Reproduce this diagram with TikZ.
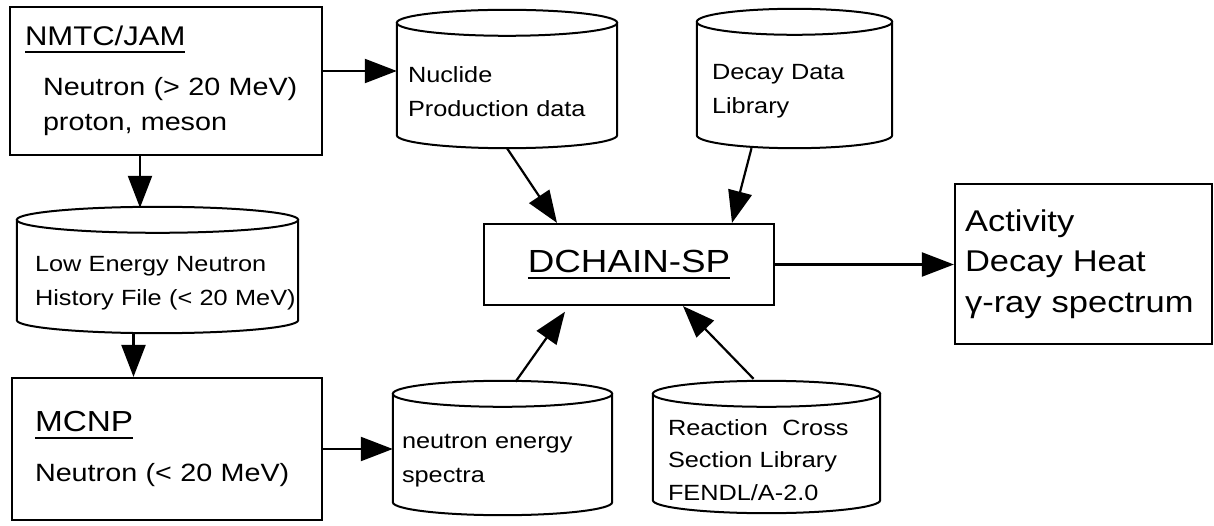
\documentclass[tikz,border=0pt]{standalone}
\usepackage{fontspec}
\setmainfont{Liberation Sans}[FakeStretch=1.15]
\usetikzlibrary{arrows.meta,calc}

\newcommand{\undertitle}[1]{\setbox0=\hbox{#1}\rlap{\rule[-7pt]{\wd0}{1.8pt}}\box0}

\tikzset{
  procbox/.style={draw, line width=2.2pt, rectangle, inner sep=0pt, align=left,
    font=\fontsize{25}{35}\selectfont},
  dbase/.style={rectangle, inner sep=0pt, align=left, font=\fontsize{22}{34}\selectfont,
    append after command={\pgfextra{
      \draw[line width=2pt] let \p1=(\tikzlastnode.west), \p2=(\tikzlastnode.east),
          \n1={(\x2-\x1)/2} in
        ([yshift=13pt]\tikzlastnode.north) ellipse [x radius={\n1*1pt}, y radius=13pt]
        ([yshift=13pt]\tikzlastnode.north west) -- ([yshift=13pt]\tikzlastnode.south west)
        arc [start angle=180, end angle=360, x radius={\n1*1pt}, y radius=13pt]
        -- ([yshift=13pt]\tikzlastnode.north east);
    }}},
  flow/.style={line width=2.2pt, -{Triangle[length=32pt,width=24pt]}}
}

\begin{document}
\begin{tikzpicture}[x=1pt, y=-1pt]
	\useasboundingbox (0,0) rectangle (1214,526);

	% programs
	\node[procbox, minimum width=312pt, minimum height=148pt, text width=282pt] (nmtc) at (166,81)
		{{\fontsize{27}{35}\selectfont\undertitle{NMTC/JAM}}\\[15pt]
		 \hspace*{18pt}\mbox{Neutron (> 20 MeV)}\\
		 \hspace*{18pt}\mbox{proton, meson}};
	\node[procbox, minimum width=310pt, minimum height=142pt, text width=264pt] (mcnp) at (167,449)
		{{\fontsize{29}{35}\selectfont\undertitle{MCNP}}\\[15pt]
		 \mbox{Neutron (< 20 MeV)}};
	\node[procbox, minimum width=290pt, minimum height=81pt, font=\fontsize{32}{38}\selectfont] (dchain) at (629,264.5)
		{\undertitle{DCHAIN-SP}};
	\node[procbox, minimum width=257pt, minimum height=160pt, text width=237pt,
		font=\fontsize{30}{40.5}\selectfont] (act) at (1083.5,264)
		{Activity\\Decay Heat\\γ-ray spectrum};

	% data files
	\node[dbase, minimum width=220pt, minimum height=112pt, text width=198pt] (nuc) at (507,92)
		{Nuclide\\Production data};
	\node[dbase, minimum width=195pt, minimum height=113pt, text width=165pt] (dlib) at (794.5,91.5)
		{Decay Data\\Library};
	\node[dbase, minimum width=281pt, minimum height=100pt, text width=245pt] (lowe) at (157.5,283)
		{Low Energy Neutron\\\mbox{History File (< 20 MeV)}};
	\node[dbase, minimum width=219pt, minimum height=108pt, text width=201pt] (nspec) at (502.5,461)
		{neutron energy\\spectra};
	\node[dbase, minimum width=227pt, minimum height=106pt, text width=197pt,
		font=\fontsize{22}{32.5}\selectfont] (xsec) at (766.5,460)
		{Reaction\ \ Cross\\Section Library\\FENDL/A-2.0};

	\draw[flow] ([yshift=10pt]nmtc.east) -- ([yshift=10pt]nmtc.east -| nuc.west);
	\draw[flow] ([xshift=-26pt]nmtc.south) -- ([xshift=-26pt,yshift=25pt]nmtc.south |- lowe.north);
	\draw[flow] ([xshift=-24pt]lowe.south) -- ([xshift=-24pt]lowe.south |- mcnp.north);
	\draw[flow] (mcnp.east) -- (mcnp.east -| nspec.west);
	\draw[flow] (nuc.south) -- ([xshift=-72pt]dchain.north);
	\draw[flow] ([xshift=-43pt]dlib.south) -- ([xshift=103pt]dchain.north);
	\draw[flow, shorten >=7pt] ([xshift=13pt,yshift=25pt]nspec.north) -- ([xshift=-60pt]dchain.south);
	\draw[flow] ([xshift=-13pt,yshift=28pt]xsec.north) -- ([xshift=54pt]dchain.south);
	\draw[flow] (dchain.east) -- (dchain.east -| act.west);
\end{tikzpicture}
\end{document}
